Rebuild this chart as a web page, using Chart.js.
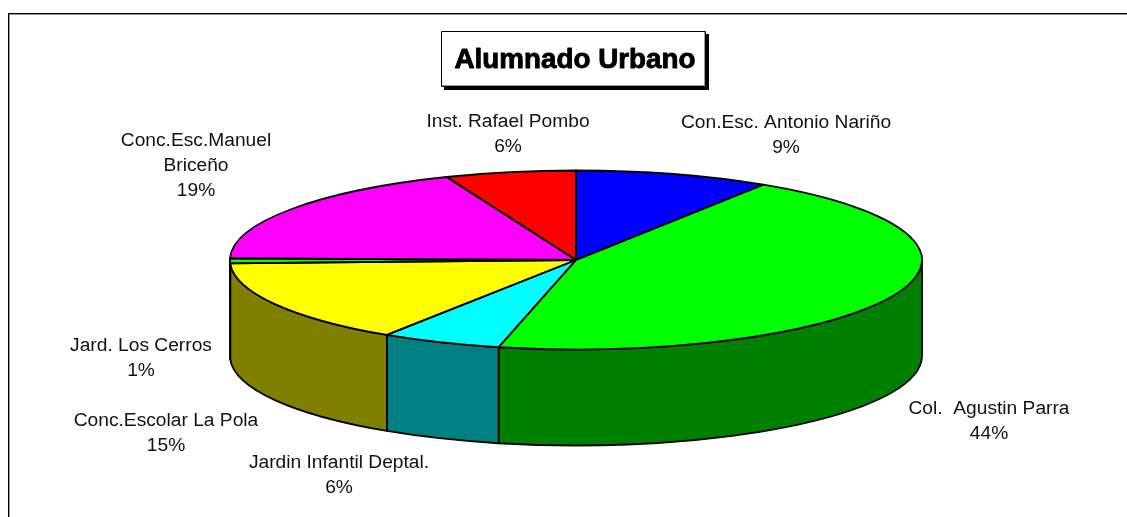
<!DOCTYPE html>
<html><head><meta charset="utf-8">
<style>html,body{margin:0;padding:0;background:#fff;overflow:hidden}canvas{display:block}</style>
<script src="https://cdn.jsdelivr.net/npm/chart.js@4"></script></head>
<body><canvas id="c" width="1127" height="517"></canvas>
<script>
const chartTitle = "Alumnado Urbano";
const categories = ["Con.Esc. Antonio Nariño","Col.  Agustin Parra","Jardin Infantil Deptal.","Conc.Escolar La Pola","Jard. Los Cerros","Conc.Esc.Manuel|Briceño","Inst. Rafael Pombo"];
const values = [9.1,44.49,5.61,15.2,0.9,18.6,6.1];
const topColors = ["#0000ff","#00ff00","#00ffff","#ffff00","#00ff00","#ff00ff","#ff0000"];
const wallColors = ["#000080","#008000","#008080","#808000","#008000","#800080","#800000"];
const labelAnchors = [[786,123],[989,409],[339,463],[166,421],[141,346],[196,141],[508,122]];
const pie3d = {cx:576, cy:260, rx:346, ry:89.5, depth:96, line:1.8};
const labelFont = '19.2px "Liberation Sans", Arial, sans-serif';
const titleFont = 'bold 27.8px "Liberation Sans", Arial, sans-serif';

const threeD = {
  id:'threeD',
  beforeDatasetsDraw(chart){
    const ctx = chart.ctx, arcs = chart.getDatasetMeta(0).data, p = pie3d;
    // walls, only on the front half of the rim
    arcs.forEach((a,i)=>{
      const s = Math.max(a.startAngle,0), e = Math.min(a.endAngle,Math.PI);
      if (e<=s) return;
      ctx.beginPath();
      ctx.ellipse(p.cx,p.cy,p.rx,p.ry,0,s,e);
      ctx.ellipse(p.cx,p.cy+p.depth,p.rx,p.ry,0,e,s,true);
      ctx.closePath();
      ctx.fillStyle = wallColors[i];
      ctx.fill();
      ctx.lineWidth = p.line; ctx.strokeStyle='#000'; ctx.lineJoin='round';
      ctx.stroke();
    });
    const a0 = arcs[0], R = a0.outerRadius;
    ctx.save();
    ctx.translate(p.cx,p.cy);
    ctx.scale(p.rx/R,p.ry/R);
    ctx.translate(-a0.x,-a0.y);
  },
  afterDatasetsDraw(chart){
    const ctx = chart.ctx, arcs = chart.getDatasetMeta(0).data, p = pie3d;
    ctx.restore();
    arcs.forEach(a=>{
      ctx.beginPath();
      ctx.moveTo(p.cx,p.cy);
      ctx.ellipse(p.cx,p.cy,p.rx,p.ry,0,a.startAngle,a.endAngle);
      ctx.closePath();
      ctx.lineWidth = p.line; ctx.strokeStyle='#000'; ctx.lineJoin='round';
      ctx.stroke();
    });
  },
  afterDraw(chart){
    const ctx = chart.ctx;
    // outer frame
    ctx.fillStyle='#000'; ctx.fillRect(8,13,1119,1); ctx.fillRect(8,13,1,504);
    ctx.fillStyle='#999'; ctx.fillRect(9,14,1118,1); ctx.fillRect(9,14,1,503);
    // title box
    ctx.fillStyle='#000'; ctx.fillRect(444,34,265,56);
    ctx.fillStyle='#fff'; ctx.fillRect(441,31,265,56);
    ctx.strokeStyle='#000'; ctx.lineWidth=1; ctx.strokeRect(441.5,31.5,264,55);
    ctx.strokeStyle='#999'; ctx.beginPath(); ctx.moveTo(442,85.5); ctx.lineTo(705,85.5); ctx.moveTo(704.5,32); ctx.lineTo(704.5,86); ctx.stroke();
    ctx.textAlign='center'; ctx.textBaseline='middle'; ctx.fillStyle='#000';
    ctx.font=titleFont; ctx.strokeStyle='#000'; ctx.lineWidth=0.9;
    ctx.fillText(chartTitle,575,60); ctx.strokeText(chartTitle,575,60);
    // data labels
    ctx.font=labelFont; ctx.fillStyle='#111';
    const total = values.reduce((a,b)=>a+b,0);
    categories.forEach((name,i)=>{
      const lines = name.split('|').concat(Math.round(values[i]/total*100)+'%');
      lines.forEach((t,k)=>ctx.fillText(t,labelAnchors[i][0],labelAnchors[i][1]+k*25));
    });
  }
};

new Chart(document.getElementById('c'),{
  type:'pie',
  data:{labels:categories,datasets:[{data:values,backgroundColor:topColors,borderWidth:0,clip:false}]},
  options:{responsive:false,animation:false,events:[],
    plugins:{legend:{display:false},tooltip:{enabled:false},title:{display:false}}},
  plugins:[threeD]
});
</script></body></html>
